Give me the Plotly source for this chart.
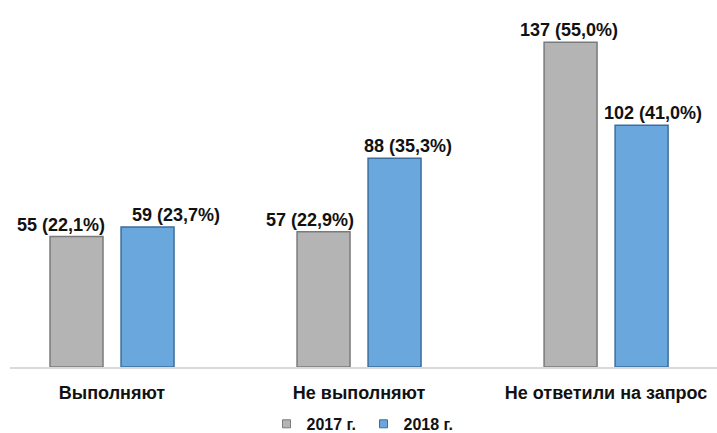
import plotly.graph_objects as go

categories = ["Выполняют", "Не выполняют", "Не ответили на запрос"]
series_names = ["2017 г.", "2018 г."]
values_2017 = [55, 57, 137]
values_2018 = [59, 88, 102]
pct_2017 = ["22,1%", "22,9%", "55,0%"]
pct_2018 = ["23,7%", "35,3%", "41,0%"]

gray = "#B4B4B4"
gray_edge = "#7A7A7A"
blue = "#6AA7DC"
blue_edge = "#3C6E9C"
font_family = "Liberation Sans, Arial, sans-serif"

fig = go.Figure()
fig.add_trace(go.Bar(
    x=categories, y=values_2017, name=series_names[0], showlegend=False,
    marker=dict(color=gray, line=dict(color=gray_edge, width=1.5)),
))
fig.add_trace(go.Bar(
    x=categories, y=values_2018, name=series_names[1], showlegend=False,
    marker=dict(color=blue, line=dict(color=blue_edge, width=1.5)),
))
# legend entries with small square markers
fig.add_trace(go.Scatter(
    x=[None], y=[None], mode="markers", name=series_names[0],
    marker=dict(symbol="square", size=8, color=gray, line=dict(color=gray_edge, width=1)),
))
fig.add_trace(go.Scatter(
    x=[None], y=[None], mode="markers", name=series_names[1],
    marker=dict(symbol="square", size=8, color=blue, line=dict(color=blue_edge, width=1)),
))

shifts_2017 = [-16, -14, -2]
shifts_2018 = [28, 13, 11]
for i, c in enumerate(categories):
    fig.add_annotation(
        x=i - 0.1437, y=values_2017[i], xref="x", yref="y",
        text=f"{values_2017[i]} ({pct_2017[i]})", showarrow=False,
        yanchor="bottom", yshift=0, xshift=shifts_2017[i],
        font=dict(family=font_family, size=18, color="#111111", weight="bold"),
    )
    fig.add_annotation(
        x=i + 0.1437, y=values_2018[i], xref="x", yref="y",
        text=f"{values_2018[i]} ({pct_2018[i]})", showarrow=False,
        yanchor="bottom", yshift=0, xshift=shifts_2018[i],
        font=dict(family=font_family, size=18, color="#111111", weight="bold"),
    )

fig.update_layout(
    width=717, height=433,
    margin=dict(l=10, r=0, t=0, b=66, autoexpand=False),
    plot_bgcolor="white", paper_bgcolor="white",
    barmode="group", bargap=0.425, bargroupgap=0.254,
    font=dict(family=font_family, size=18, color="#111111"),
    legend=dict(
        orientation="h", x=0.5, xanchor="center",
        yref="container", y=0.021, yanchor="middle",
        font=dict(family=font_family, size=16, weight="bold"),
        itemwidth=30, tracegroupgap=0,
        entrywidth=52, entrywidthmode="pixels",
    ),
    xaxis=dict(
        range=[-0.413, 2.449], automargin=False,
        showline=True, linecolor="#D9D9D9", linewidth=2,
        showgrid=False, zeroline=False,
        ticks="outside", ticklen=8, tickcolor="rgba(0,0,0,0)",
        tickfont=dict(family=font_family, size=18, weight="bold", color="#111111"),
    ),
    yaxis=dict(
        range=[0, 154.8], visible=False, showgrid=False, zeroline=False,
        automargin=False,
    ),
)

fig.write_html(
    "out.html",
    config={"displayModeBar": False},
    post_script="document.body.style.margin='0';",
)
